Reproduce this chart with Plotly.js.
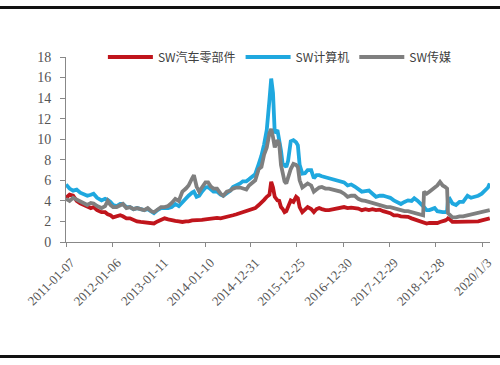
<!DOCTYPE html>
<html>
<head>
<meta charset="utf-8">
<script src="https://cdn.plot.ly/plotly-3.0.1.min.js"></script>
<style>
  html, body { margin: 0; padding: 0; background: #fff; }
  #wrap { position: relative; width: 500px; height: 365px; overflow: hidden; }
  #chart { width: 500px; height: 365px; }
  .rule { position: absolute; left: 0; width: 500px; height: 3px; background: #111; }
</style>
</head>
<body>
<div id="wrap">
  <div id="chart"></div>
  <div class="rule" style="top:6px"></div>
  <div class="rule" style="top:355px"></div>
</div>
<script>
const dates = [
  '2011-01-07','2011-02-04','2011-03-04','2011-04-01','2011-04-29','2011-05-27','2011-06-24','2011-07-22',
  '2011-08-12','2011-09-09','2011-10-14','2011-11-11','2011-12-02','2011-12-23','2012-01-13','2012-02-10',
  '2012-03-09','2012-03-30','2012-04-27','2012-05-25','2012-06-22','2012-07-20','2012-08-17','2012-09-14',
  '2012-10-12','2012-11-09','2012-11-30','2012-12-28','2013-01-25','2013-02-22','2013-03-22','2013-04-19',
  '2013-05-17','2013-06-14','2013-07-12','2013-08-09','2013-08-30','2013-09-27','2013-10-11','2013-11-01',
  '2013-11-22','2013-12-13','2014-01-10','2014-01-31','2014-02-21','2014-03-14','2014-04-11','2014-05-09',
  '2014-05-30','2014-06-27','2014-07-25','2014-08-15','2014-09-12','2014-10-10','2014-10-31','2014-11-28',
  '2014-12-19','2015-01-09','2015-02-06','2015-03-06','2015-03-27','2015-04-17','2015-05-08','2015-05-29',
  '2015-06-12','2015-06-26','2015-07-10','2015-07-31','2015-08-14','2015-08-28','2015-09-11','2015-09-25',
  '2015-10-09','2015-10-23','2015-11-13','2015-12-04','2015-12-25','2016-01-08','2016-01-22','2016-02-12',
  '2016-03-04','2016-03-25','2016-04-22','2016-05-13','2016-06-03','2016-06-24','2016-07-15','2016-08-12',
  '2016-09-09','2016-10-14','2016-11-11','2016-12-09','2017-01-06','2017-02-03','2017-03-03','2017-03-31',
  '2017-04-28','2017-05-26','2017-06-23','2017-07-21','2017-08-18','2017-09-15','2017-10-13','2017-11-10',
  '2017-12-08','2018-01-05','2018-02-02','2018-03-02','2018-03-30','2018-04-27','2018-05-25','2018-06-22',
  '2018-07-13','2018-08-10','2018-09-07','2018-09-21','2018-09-28','2018-10-19','2018-11-09','2018-11-30',
  '2018-12-21','2019-01-11','2019-02-01','2019-02-22','2019-03-15','2019-03-29','2019-04-05','2019-04-19',
  '2019-05-10','2019-06-07','2019-07-05','2019-08-02','2019-09-06','2019-10-04','2019-11-01','2019-11-29',
  '2019-12-27','2020-01-24','2020-02-14','2020-02-28'
];
const autoParts = [
  4.3,4.6,4.5,4.0,3.75,3.6,3.5,3.3,
  3.4,3.1,2.9,2.9,2.7,2.6,2.4,2.5,
  2.6,2.5,2.3,2.3,2.1,2.0,1.95,1.9,
  1.85,1.8,1.8,2.0,2.2,2.3,2.2,2.1,
  2.05,2.0,1.95,2.0,2.0,2.1,2.1,2.1,
  2.15,2.15,2.2,2.25,2.3,2.3,2.35,2.3,
  2.35,2.4,2.55,2.6,2.7,2.8,2.9,3.0,
  3.1,3.2,3.3,3.6,3.8,4.1,4.4,4.6,
  5.85,5.3,4.4,4.05,4.0,3.4,3.2,2.9,
  3.0,3.5,4.05,3.9,4.4,4.25,3.4,2.9,
  3.2,3.4,3.2,2.9,3.2,3.3,3.2,3.1,
  3.1,3.2,3.3,3.4,3.4,3.3,3.35,3.3,
  3.25,3.1,3.2,3.1,3.2,3.1,3.15,3.0,
  2.9,2.8,2.6,2.6,2.5,2.5,2.45,2.3,
  2.2,2.1,1.95,1.95,1.9,1.8,1.85,1.85,
  1.8,1.85,1.95,2.0,2.1,2.2,2.3,2.2,
  1.95,1.95,1.95,2.0,2.0,1.95,1.95,2.0,
  2.1,2.2,2.2,2.3
];
const computer = [
  5.6,5.2,5.0,5.1,4.8,4.6,4.5,4.6,
  4.7,4.3,4.05,4.2,4.1,3.9,3.6,3.5,
  3.7,3.7,3.4,3.4,3.2,3.3,3.2,3.1,
  3.2,3.0,2.8,3.1,3.3,3.3,3.3,3.4,
  3.7,3.5,3.9,4.2,4.5,4.8,4.9,4.4,
  4.5,4.9,5.3,5.35,5.1,4.9,4.9,4.6,
  4.5,4.7,5.0,5.35,5.5,5.7,5.9,5.9,
  6.1,6.3,6.6,7.6,8.4,9.5,10.9,13.8,
  15.9,14.5,10.6,10.9,10.0,8.9,7.5,7.5,
  7.3,7.9,9.8,9.9,9.7,9.4,7.5,6.65,
  6.7,7.0,7.0,6.2,6.5,6.5,6.4,6.3,
  6.2,6.1,6.0,5.85,5.8,5.5,5.6,5.4,
  5.1,4.9,4.95,5.0,4.7,4.4,4.5,4.5,
  4.4,4.3,4.05,3.9,3.7,3.9,4.05,4.0,
  4.25,4.0,3.7,3.5,3.4,3.1,3.1,3.2,
  3.3,3.0,2.9,2.9,2.9,3.0,4.05,4.2,
  3.75,3.6,3.9,3.9,4.5,4.3,4.4,4.5,
  4.7,5.0,5.3,5.7
];
const media = [
  4.2,4.0,4.3,4.1,3.9,3.8,3.6,3.8,
  3.75,3.5,3.3,3.5,4.0,3.6,3.4,3.4,
  3.6,3.7,3.3,3.4,3.2,3.3,3.2,3.1,
  3.3,3.0,2.9,3.2,3.4,3.4,3.5,3.8,
  4.2,4.0,4.9,5.2,5.5,6.2,6.5,5.4,
  4.9,5.3,5.8,5.8,5.4,5.2,5.2,4.7,
  4.5,4.9,5.0,5.2,5.3,5.3,5.2,5.1,
  5.5,5.7,6.0,7.1,7.3,8.5,9.2,10.6,
  11.0,10.2,9.2,9.9,9.6,7.5,6.5,5.9,
  5.7,6.4,7.1,7.6,7.5,7.3,6.0,5.3,
  5.5,5.7,5.5,4.9,5.1,5.3,5.35,5.2,
  5.2,5.1,5.0,4.9,4.7,4.4,4.5,4.5,
  4.2,4.05,4.0,3.9,3.8,3.7,3.6,3.5,
  3.4,3.4,3.3,3.2,3.1,3.0,3.0,2.9,
  2.85,2.8,2.7,2.6,4.9,4.7,4.9,5.1,
  5.35,5.5,5.85,5.5,5.35,5.2,2.8,2.6,
  2.4,2.4,2.5,2.5,2.6,2.6,2.7,2.8,
  2.9,3.0,3.0,3.1
];
const seriesNames = ['SW汽车零部件','SW计算机','SW传媒'];
const tickDates = ['2011-01-07','2012-01-06','2013-01-11','2014-01-10','2014-12-31','2015-12-25','2016-12-30','2017-12-29','2018-12-28','2020-01-03'];
const tickLabels = ['2011-01-07','2012-01-06','2013-01-11','2014-01-10','2014-12-31','2015-12-25','2016-12-30','2017-12-29','2018-12-28','2020/1/3'];
const yTicks = [0,2,4,6,8,10,12,14,16,18];

const colors = ['#C0151C','#1FA8DF','#7F7F7F'];
const vals = [autoParts, computer, media];
const traces = vals.map((v, i) => ({
  type: 'scatter', mode: 'lines', name: seriesNames[i],
  x: dates, y: v,
  line: { color: colors[i], width: 3.8 }
}));

const serif = '"Liberation Serif", "Times New Roman", serif';
const layout = {
  width: 500, height: 365,
  margin: { l: 66, r: 10, t: 57, b: 123 },
  paper_bgcolor: '#fff', plot_bgcolor: '#fff',
  showlegend: true,
  legend: {
    orientation: 'h', x: 0.087, xanchor: 'left', y: 1.0, yanchor: 'middle',
    bgcolor: 'rgba(0,0,0,0)', itemwidth: 45,
    font: { family: '"Noto Sans CJK SC", sans-serif', size: 12, color: '#404040' },
    traceorder: 'normal'
  },
  xaxis: {
    type: 'date', range: ['2011-01-07', '2020-03-01'],
    tickmode: 'array', tickvals: tickDates, ticktext: tickLabels,
    tickangle: -45, ticks: 'outside', ticklen: 4, tickcolor: '#888',
    ticklabelshift: 5, ticklabelstandoff: 3,
    showline: true, linecolor: '#888', linewidth: 1,
    showgrid: false, zeroline: false,
    tickfont: { family: serif, size: 13, color: '#555' }
  },
  yaxis: {
    range: [0, 18], tickmode: 'array', tickvals: yTicks,
    ticks: 'outside', ticklen: 5, tickcolor: '#888',
    ticklabelstandoff: 6,
    showline: true, linecolor: '#888', linewidth: 1,
    showgrid: false, zeroline: false,
    tickfont: { family: serif, size: 14, color: '#555' }
  }
};
Plotly.newPlot('chart', traces, layout, { displayModeBar: false, staticPlot: true });
</script>
</body>
</html>
